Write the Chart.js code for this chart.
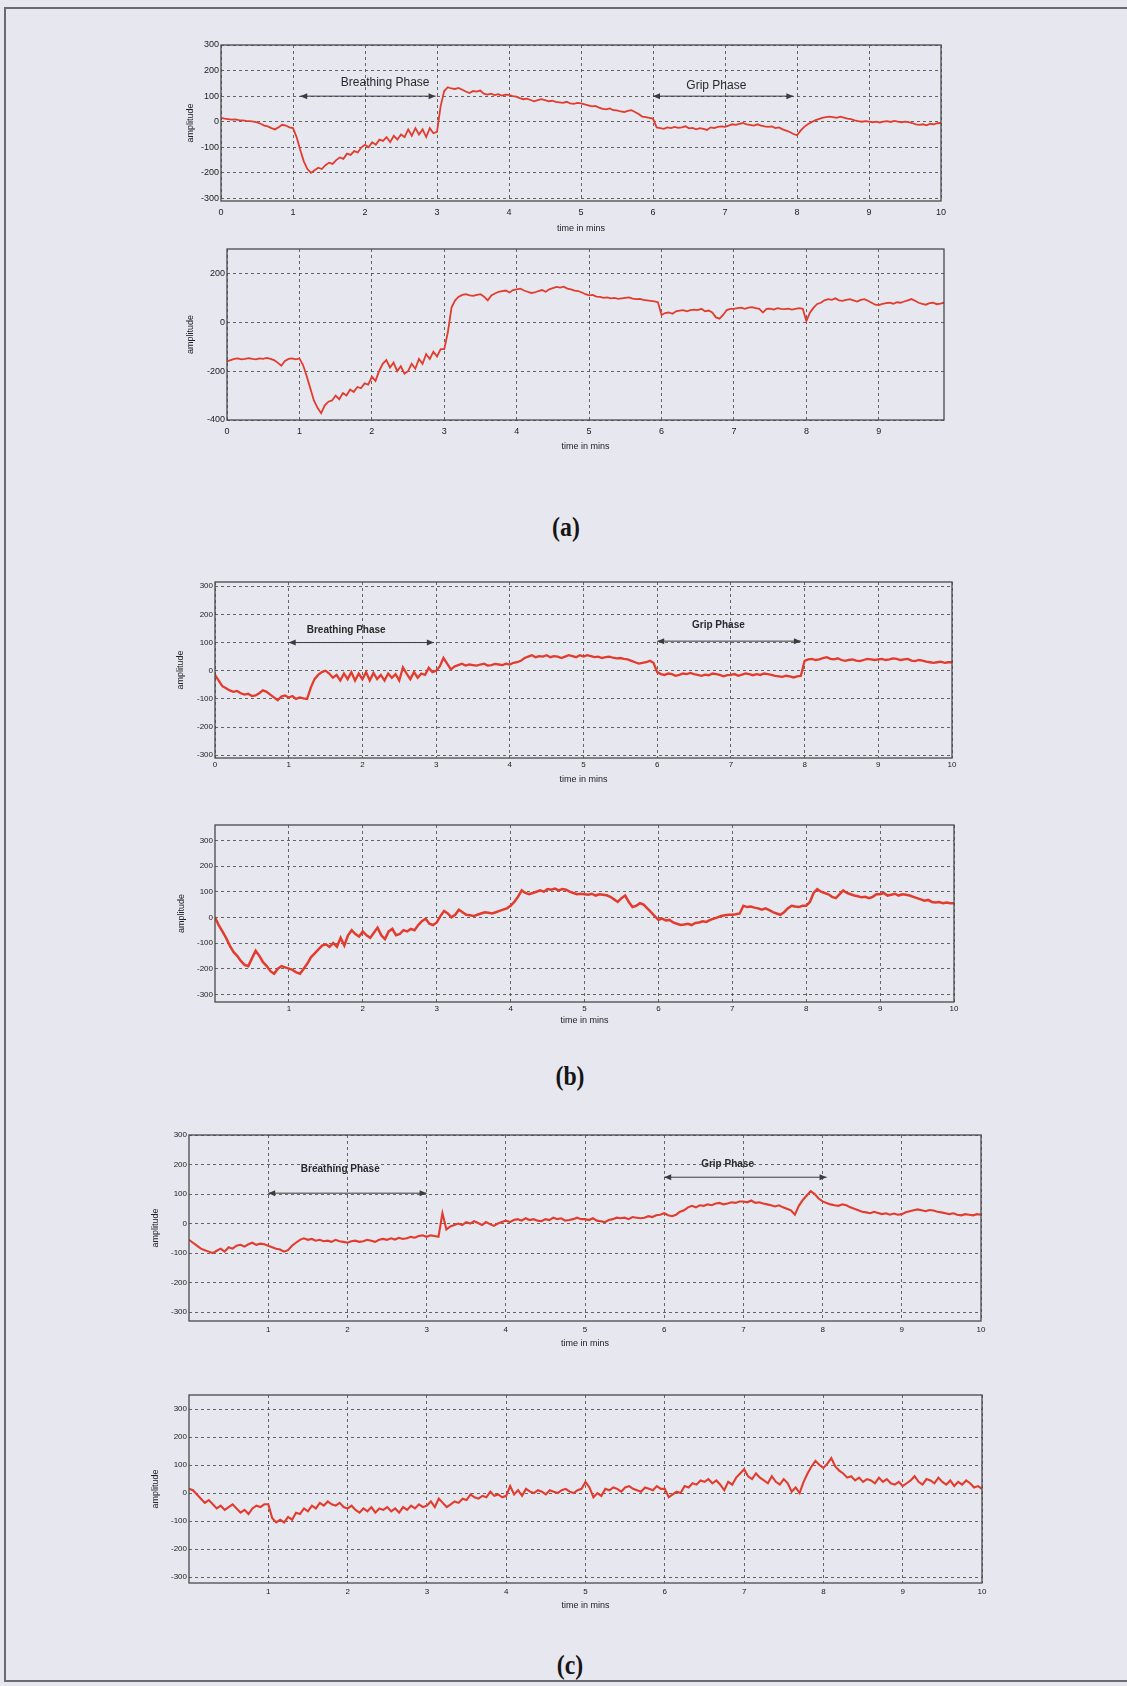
<!DOCTYPE html>
<html>
<head>
<meta charset="utf-8">
<script src="https://cdn.jsdelivr.net/npm/chart.js@4.4.1/dist/chart.umd.min.js"></script>
<style>
  html, body { margin: 0; padding: 0; }
  body { width: 1127px; height: 1686px; background: #e7e7ef; position: relative; overflow: hidden; }
  .frame { position: absolute; left: 4px; top: 7px; width: 1200px; height: 1675px; border: 2px solid #6a6a70; box-sizing: border-box; }
  .plot { position: absolute; }
  .cap { position: absolute; font-family: 'Liberation Serif', 'DejaVu Serif', serif; font-weight: bold; font-size: 28px; color: #151515; transform: translate(-50%, -50%) scaleX(0.85); }
</style>
</head>
<body>
<div class="frame"></div>
<div class="cap" style="left:566px; top:527px;">(a)</div>
<div class="cap" style="left:570px; top:1076px;">(b)</div>
<div class="cap" style="left:570px; top:1665px;">(c)</div>
<script>
// sampling step of the traced signals (minutes)
const STEP = 0.05;

const xTicks0to10 = [0, 1, 2, 3, 4, 5, 6, 7, 8, 9, 10];
const xTicks0to9 = [0, 1, 2, 3, 4, 5, 6, 7, 8, 9];
const xTicks1to10 = [1, 2, 3, 4, 5, 6, 7, 8, 9, 10];
const yTicks300 = [-300, -200, -100, 0, 100, 200, 300];
const yTicks400 = [-400, -200, 0, 200];

const phaseNames = ['Breathing Phase', 'Grip Phase'];

// (a) top
const ampA1 = [
  15, 12, 10, 8, 9, 6, 5, 3, 2, 0, -3, -8, -15, -18, -25, -30, -22, -12, -15, -22,
  -25, -60, -110, -155, -185, -200, -190, -180, -185, -170, -160, -165, -150, -140, -145, -125, -130, -115, -120, -100,
  -90, -100, -80, -90, -70, -75, -60, -80, -55, -70, -50, -60, -30, -55, -25, -50, -30, -60, -25, -45,
  -40, 60, 120, 135, 130, 128, 132, 125, 118, 112, 120, 118, 122, 110, 106, 110, 104, 108, 102, 106,
  105, 100, 98, 92, 88, 90, 85, 80, 84, 88, 84, 80, 82, 78, 76, 74, 78, 72, 70, 74,
  72, 68, 64, 60, 62, 55, 50, 48, 52, 45, 44, 40, 38, 42, 45, 38, 30, 20, 18, 15,
  12, -22, -25, -28, -22, -25, -20, -24, -22, -18, -26, -24, -30, -25, -28, -32, -22, -25, -20, -18,
  -20, -15, -10, -12, -8, -5, -10, -12, -15, -10, -15, -18, -20, -18, -25, -22, -30, -35, -40, -48,
  -53, -35, -20, -10, -2, 5, 10, 15, 18, 20, 18, 15, 20, 16, 12, 10, 5, 2, 0, 2,
  0, -2, 0, -3, 0, 2, -1, 3, 0, -2, 0, -2, -5, -10, -12, -10, -14, -8, -10, -6,
  -5
];
const phaseStartA1 = [1.1, 6.0];
const phaseEndA1 = [2.98, 7.95];
const phaseArrowYA1 = [100, 100];
const phaseTextXA1 = [2.28, 6.88];
const phaseTextYA1 = [152, 140];

// (a) bottom
const ampA2 = [
  -160, -155, -150, -148, -152, -150, -147, -150, -152, -148, -150, -146, -150, -155, -165, -178, -158, -150, -148, -152,
  -148, -175, -220, -270, -320, -350, -372, -340, -325, -320, -300, -315, -290, -300, -275, -285, -265, -270, -250, -255,
  -223, -240, -200, -170, -155, -185, -165, -200, -180, -210, -200, -170, -190, -150, -170, -130, -150, -120, -140, -110,
  -110, -40, 60, 90, 105, 112, 115, 110, 108, 112, 115, 105, 90, 110, 118, 125, 128, 130, 122, 132,
  135, 138, 130, 125, 120, 122, 128, 132, 125, 135, 140, 145, 142, 146, 138, 135, 130, 128, 122, 115,
  110, 112, 105, 104, 100, 102, 98, 100, 96, 98, 100, 102, 97, 95, 96, 92, 90, 88, 86, 82,
  30, 38, 40, 35, 45, 48, 50, 45, 50, 52, 50, 55, 45, 48, 40, 20, 15, 30, 50, 55,
  55, 58, 60, 55, 60, 62, 58, 55, 40, 55, 56, 52, 58, 55, 54, 56, 52, 55, 58, 55,
  5, 40, 60, 75, 80, 90, 95, 92, 98, 90, 88, 92, 95, 90, 85, 92, 95, 88, 80, 72,
  70, 75, 78, 80, 76, 82, 80, 85, 90, 95, 88, 80, 75, 72, 78, 80, 74, 76, 80
];

// (b) top
const ampB1 = [
  -15, -35, -55, -62, -70, -75, -72, -80, -85, -82, -90, -88, -80, -70, -75, -85, -95, -105, -92, -88,
  -95, -90, -100, -95, -98, -100, -60, -30, -15, -5, 0, -10, -25, -15, -35, -10, -30, -5, -35, -10,
  -30, -5, -35, -8, -30, -15, -35, -10, -25, -12, -35, 12, -10, -30, -5, -25, -10, -15, 10, -5,
  0, 15, 45, 25, 5, 15, 20, 25, 18, 22, 20, 18, 22, 25, 18, 20, 24, 22, 20, 25,
  22, 28, 30, 35, 45, 50, 55, 48, 52, 50, 55, 48, 52, 50, 45, 50, 55, 52, 48, 55,
  50, 55, 52, 48, 50, 45, 48, 50, 46, 44, 45, 42, 40, 35, 30, 25, 28, 30, 35, 28,
  -5, -12, -15, -10, -12, -18, -15, -10, -12, -8, -12, -15, -18, -14, -16, -10, -12, -15, -20, -16,
  -15, -12, -18, -14, -10, -12, -16, -12, -15, -10, -12, -15, -18, -20, -22, -18, -20, -24, -20, -18,
  35, 40, 42, 38, 40, 45, 48, 42, 40, 44, 38, 35, 38, 40, 36, 34, 38, 42, 40, 38,
  40, 42, 38, 40, 44, 42, 38, 40, 42, 36, 34, 38, 36, 32, 30, 28, 30, 32, 28, 30,
  30
];
const phaseStartB1 = [1.0, 6.0];
const phaseEndB1 = [2.97, 7.95];
const phaseArrowYB1 = [100, 105];
const phaseTextXB1 = [1.78, 6.83];
const phaseTextYB1 = [143, 160];

// (b) bottom
const ampB2 = [
  0, -30, -55, -80, -110, -135, -150, -170, -185, -190, -160, -130, -150, -175, -190, -210, -220, -200, -190, -195,
  -200, -205, -215, -220, -200, -180, -155, -140, -125, -110, -105, -115, -100, -115, -80, -110, -70, -50, -65, -75,
  -55, -70, -80, -60, -40, -70, -85, -55, -45, -70, -65, -50, -55, -45, -50, -30, -15, -5, -25, -30,
  -20, 5, 25, 15, 0, 10, 30, 20, 10, 8, 5, 10, 15, 20, 18, 15, 20, 25, 30, 35,
  45, 60, 80, 105, 95, 90, 95, 100, 105, 100, 110, 108, 112, 105, 110, 108, 100, 95, 90, 92,
  90, 88, 92, 85, 90, 88, 86, 80, 70, 60, 75, 85, 60, 40, 45, 55, 50, 35, 20, 5,
  -10, -5, -12, -10, -20, -25, -30, -28, -25, -30, -22, -20, -15, -18, -10, -5, 0, 5, 8, 10,
  10, 12, 15, 45, 40, 42, 38, 35, 30, 35, 28, 20, 15, 10, 20, 35, 45, 42, 40, 45,
  45, 60, 95, 110, 100, 95, 90, 80, 75, 90, 105, 95, 90, 85, 82, 78, 80, 75, 80, 90,
  90, 95, 85, 88, 92, 85, 90, 88, 85, 80, 75, 70, 65, 68, 60, 58, 60, 55, 58, 55,
  55
];

// (c) top
const ampC1 = [
  -55, -65, -75, -85, -90, -95, -100, -92, -85, -95, -80, -85, -75, -72, -78, -70, -65, -72, -68, -70,
  -75, -80, -85, -88, -95, -90, -75, -65, -55, -50, -55, -52, -58, -55, -60, -58, -62, -55, -60, -62,
  -65, -60, -58, -62, -60, -55, -58, -62, -55, -52, -55, -50, -54, -48, -52, -50, -45, -48, -42, -40,
  -45, -40, -42, -45, 35, -20, -10, -5, 0, -5, 5, 0, 8, 2, -5, 5, -2, -8, 0, 5,
  10, 5, 12, 15, 10, 18, 12, 15, 10, 8, 15, 12, 20, 15, 18, 10, 12, 15, 20, 15,
  15, 12, 18, 10, 8, 5, 12, 15, 20, 18, 20, 15, 22, 20, 18, 20, 25, 22, 28, 30,
  35, 28, 25, 30, 40, 45, 55, 60, 55, 62, 60, 65, 62, 68, 70, 65, 68, 72, 70, 75,
  75, 72, 78, 70, 72, 68, 65, 62, 58, 62, 55, 50, 45, 30, 60, 80, 95, 110, 100, 85,
  75, 70, 65, 62, 60, 65, 62, 55, 50, 45, 40, 38, 35, 40, 36, 32, 35, 30, 34, 30,
  32, 38, 42, 45, 48, 45, 42, 46, 44, 40, 38, 35, 32, 35, 30, 28, 32, 30, 28, 32,
  30
];
const phaseStartC1 = [1.0, 6.0];
const phaseEndC1 = [3.0, 8.05];
const phaseArrowYC1 = [103, 157];
const phaseTextXC1 = [1.91, 6.8];
const phaseTextYC1 = [185, 200];

// (c) bottom
const ampC2 = [
  15, 10, -5, -20, -35, -25, -40, -55, -45, -60, -50, -40, -55, -70, -60, -75, -55, -45, -50, -40,
  -40, -90, -105, -95, -105, -85, -95, -70, -75, -55, -65, -45, -55, -35, -45, -30, -40, -45, -35, -50,
  -55, -45, -60, -70, -55, -65, -50, -70, -55, -60, -50, -65, -55, -70, -50, -60, -45, -55, -40, -50,
  -45, -30, -50, -20, -35, -50, -40, -30, -35, -20, -25, -5, -15, -20, -10, -15, 5, -10, -5, -15,
  -10, 25, -5, 10, -10, 15, 5, 0, 10, 5, -5, 10, 5, 0, 10, 15, 5, 0, 10, 15,
  40, 20, -15, 0, -10, 15, 10, 20, 15, 5, 20, 25, 15, 10, 5, 20, 15, 10, 25, 15,
  15, -15, -5, 5, 0, 25, 20, 35, 30, 45, 40, 50, 35, 45, 30, 10, 40, 30, 55, 70,
  85, 60, 50, 70, 55, 45, 35, 60, 40, 30, 50, 35, 5, 20, 0, 40, 70, 95, 115, 100,
  90, 105, 125, 95, 80, 70, 55, 60, 45, 55, 40, 50, 45, 35, 55, 40, 50, 35, 30, 40,
  25, 35, 45, 60, 40, 30, 50, 45, 35, 55, 40, 30, 45, 25, 40, 30, 45, 35, 20, 25,
  15
];

// page geometry of each axes box (left, top, right, bottom) and label offsets
const plots = [
  { box: [221, 45, 941, 201], amp: ampA1, xMax: 10, yMin: -310, yMax: 300, xTicks: xTicks0to10, yTicks: yTicks300, tickFont: 9, tickPad: 6, xTitleGap: 27, yTitleGap: 30, lw: 1.8,
    phases: { start: phaseStartA1, end: phaseEndA1, arrowY: phaseArrowYA1, textX: phaseTextXA1, textY: phaseTextYA1, font: "12px 'Liberation Sans Narrow', 'Liberation Sans', Arial" } },
  { box: [227, 249, 944, 420], amp: ampA2, xMax: 9.9, yMin: -400, yMax: 300, xTicks: xTicks0to9, yTicks: yTicks400, tickFont: 9, tickPad: 6, xTitleGap: 26, yTitleGap: 36, lw: 1.8 },
  { box: [215, 582, 952, 758], amp: ampB1, xMax: 10, yMin: -310, yMax: 315, xTicks: xTicks0to10, yTicks: yTicks300, tickFont: 8, tickPad: 2, xTitleGap: 21, yTitleGap: 34, lw: 2.3,
    phases: { start: phaseStartB1, end: phaseEndB1, arrowY: phaseArrowYB1, textX: phaseTextXB1, textY: phaseTextYB1, font: "bold 10px 'Liberation Sans', Arial" } },
  { box: [215, 825, 954, 1002], amp: ampB2, xMax: 10, yMin: -330, yMax: 360, xTicks: xTicks1to10, yTicks: yTicks300, tickFont: 8, tickPad: 2, xTitleGap: 18, yTitleGap: 33, lw: 2.5 },
  { box: [189, 1135, 981, 1321], amp: ampC1, xMax: 10, yMin: -330, yMax: 300, xTicks: xTicks1to10, yTicks: yTicks300, tickFont: 8, tickPad: 4, xTitleGap: 22, yTitleGap: 33, lw: 2.1,
    phases: { start: phaseStartC1, end: phaseEndC1, arrowY: phaseArrowYC1, textX: phaseTextXC1, textY: phaseTextYC1, font: "bold 10px 'Liberation Sans', Arial" } },
  { box: [189, 1395, 982, 1583], amp: ampC2, xMax: 10, yMin: -321, yMax: 350, xTicks: xTicks1to10, yTicks: yTicks300, tickFont: 8, tickPad: 4, xTitleGap: 22, yTitleGap: 33, lw: 2.1 }
];

const boxPlugin = {
  id: 'boxAndPhases',
  afterDraw(chart, args, opts) {
    const { ctx, chartArea: a, scales: { x, y } } = chart;
    ctx.save();
    ctx.strokeStyle = '#4a4a4a';
    ctx.lineWidth = 1.3;
    ctx.strokeRect(a.left, a.top, a.right - a.left, a.bottom - a.top);
    const ph = opts.phases;
    if (ph) {
      ctx.strokeStyle = '#3c3c3c';
      ctx.fillStyle = '#3c3c3c';
      ctx.lineWidth = 1;
      ph.start.forEach((s, i) => {
        const x1 = x.getPixelForValue(s), x2 = x.getPixelForValue(ph.end[i]);
        const yy = y.getPixelForValue(ph.arrowY[i]);
        ctx.beginPath(); ctx.moveTo(x1, yy); ctx.lineTo(x2, yy); ctx.stroke();
        [[x1, 1], [x2, -1]].forEach(([px, d]) => {
          ctx.beginPath();
          ctx.moveTo(px, yy);
          ctx.lineTo(px + 7 * d, yy - 3);
          ctx.lineTo(px + 7 * d, yy + 3);
          ctx.closePath(); ctx.fill();
        });
        ctx.font = ph.font;
        ctx.textAlign = 'center';
        ctx.textBaseline = 'middle';
        ctx.fillStyle = '#2a2a2a';
        ctx.fillText(phaseNames[i], x.getPixelForValue(ph.textX[i]), y.getPixelForValue(ph.textY[i]));
        ctx.fillStyle = '#3c3c3c';
      });
    }
    ctx.restore();
  }
};

// y-axis reserve, top and right padding (px)
const L = 46, T = 8, R = 16;
plots.forEach((p) => {
  const [bx0, by0, bx1, by1] = p.box;
  const w = bx1 - bx0, h = by1 - by0;
  const B = p.xTitleGap + 6;
  const wrap = document.createElement('div');
  wrap.className = 'plot';
  wrap.style.left = (bx0 - L) + 'px';
  wrap.style.top = (by0 - T) + 'px';
  const cv = document.createElement('canvas');
  cv.width = L + w + R;
  cv.height = T + h + B;
  wrap.appendChild(cv);
  document.body.appendChild(wrap);

  const pts = p.amp.map((v, i) => ({ x: +(i * STEP).toFixed(2), y: v }));
  const tickFont = { family: "'Liberation Sans Narrow', 'Liberation Sans', Arial", size: p.tickFont };
  const titleFont = { family: "'Liberation Sans Narrow', 'Liberation Sans', Arial", size: 9 };

  new Chart(cv, {
    type: 'line',
    data: {
      datasets: [{
        data: pts,
        borderColor: 'rgb(226, 60, 46)',
        borderWidth: p.lw,
        pointRadius: 0,
        tension: 0
      }]
    },
    options: {
      responsive: false,
      animation: false,
      devicePixelRatio: 1,
      layout: { padding: { left: 0, top: T, right: R, bottom: 0 } },
      plugins: {
        legend: { display: false },
        tooltip: { enabled: false },
        boxAndPhases: { phases: p.phases }
      },
      scales: {
        x: {
          type: 'linear',
          min: 0,
          max: p.xMax,
          afterBuildTicks: (s) => { s.ticks = p.xTicks.map((v) => ({ value: v })); },
          afterFit: (s) => { s.height = B; },
          ticks: { color: '#222', font: tickFont, padding: p.tickPad, maxRotation: 0, autoSkip: false },
          grid: { color: '#555', lineWidth: 0.9, drawTicks: false },
          border: { display: false, dash: [3, 3] },
          title: { display: true, text: 'time in mins', color: '#222', font: titleFont, padding: 0 }
        },
        y: {
          min: p.yMin,
          max: p.yMax,
          afterBuildTicks: (s) => { s.ticks = p.yTicks.map((v) => ({ value: v })); },
          afterFit: (s) => { s.width = L; },
          ticks: { color: '#222', font: tickFont, padding: 2, autoSkip: false },
          grid: { color: '#555', lineWidth: 0.9, drawTicks: false },
          border: { display: false, dash: [3, 3] },
          title: { display: true, text: 'amplitude', color: '#222', font: titleFont, padding: { top: L - p.yTitleGap - 5.4, bottom: 0 } }
        }
      }
    },
    plugins: [boxPlugin]
  });
});
</script>
</body>
</html>
